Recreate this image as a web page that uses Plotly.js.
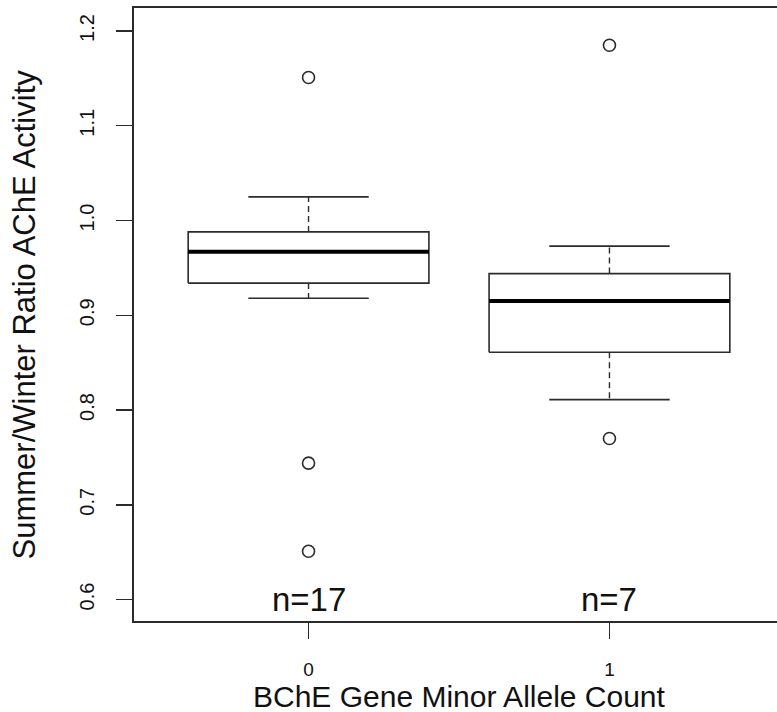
<!DOCTYPE html>
<html>
<head>
<meta charset="utf-8">
<script src="https://cdn.plot.ly/plotly-3.0.1.min.js"></script>
<style>
html, body { margin: 0; padding: 0; overflow: hidden; background: #fff; }
#chart { width: 800px; height: 712px; }
</style>
</head>
<body>
<div id="chart"></div>
<script>
// ---- data ----
var categories = ['0', '1'];
var positions = [1, 2];
var lowerWhisker = [0.918, 0.811];
var q1 = [0.934, 0.861];
var median = [0.967, 0.915];
var q3 = [0.988, 0.944];
var upperWhisker = [1.025, 0.973];
var outliers0 = [1.151, 0.744, 0.651];
var outliers1 = [1.185, 0.770];
var counts = [17, 7];
var yTicks = [0.6, 0.7, 0.8, 0.9, 1.0, 1.1, 1.2];
var xTitle = 'BChE Gene Minor Allele Count';
var yTitle = 'Summer/Winter Ratio AChE Activity';

// ---- build marks ----
var boxHalf = 0.4, capHalf = 0.2;
var lineCol = '#2b2b2b';
var FONT = 'Liberation Sans, Arial, Helvetica, sans-serif';

var boxX = [], boxY = [], medX = [], medY = [], whX = [], whY = [], capX = [], capY = [];
positions.forEach(function (c, i) {
  boxX.push(c - boxHalf, c + boxHalf, c + boxHalf, c - boxHalf, c - boxHalf, null);
  boxY.push(q1[i], q1[i], q3[i], q3[i], q1[i], null);
  medX.push(c - boxHalf, c + boxHalf, null);
  medY.push(median[i], median[i], null);
  whX.push(c, c, null, c, c, null);
  whY.push(q3[i], upperWhisker[i], null, q1[i], lowerWhisker[i], null);
  capX.push(c - capHalf, c + capHalf, null, c - capHalf, c + capHalf, null);
  capY.push(upperWhisker[i], upperWhisker[i], null, lowerWhisker[i], lowerWhisker[i], null);
});

var outX = [], outY = [];
[outliers0, outliers1].forEach(function (arr, i) {
  arr.forEach(function (v) { outX.push(positions[i]); outY.push(v); });
});

var traces = [
  { x: whX, y: whY, mode: 'lines', line: { color: lineCol, width: 1.4, dash: '6px,4px' }, hoverinfo: 'skip' },
  { x: capX, y: capY, mode: 'lines', line: { color: lineCol, width: 1.6 }, hoverinfo: 'skip' },
  { x: boxX, y: boxY, mode: 'lines', fill: 'toself', fillcolor: '#ffffff', line: { color: lineCol, width: 1.6 }, hoverinfo: 'skip' },
  { x: medX, y: medY, mode: 'lines', line: { color: '#000000', width: 4 }, hoverinfo: 'skip' },
  { x: outX, y: outY, mode: 'markers', marker: { symbol: 'circle-open', size: 12, color: lineCol, line: { width: 1.6, color: lineCol } }, hoverinfo: 'skip' }
];

var annotations = positions.map(function (c, i) {
  return {
    x: c, y: 0.6, xref: 'x', yref: 'y', text: 'n=' + counts[i], showarrow: false,
    xanchor: 'center', yanchor: 'middle', font: { family: FONT, size: 33, color: '#111' }
  };
});
annotations.push({
  x: 0.5, y: 0, xref: 'paper', yref: 'paper', text: xTitle, showarrow: false,
  xanchor: 'center', yanchor: 'top', yshift: -57, font: { family: FONT, size: 30, color: '#111' }
});
annotations.push({
  x: 0, y: 0.5, xref: 'paper', yref: 'paper', text: yTitle, showarrow: false, textangle: -90,
  xanchor: 'center', yanchor: 'middle', xshift: -110, font: { family: FONT, size: 31, color: '#111' }
});

var layout = {
  width: 800, height: 712,
  margin: { l: 134, r: 16, t: 8, b: 91 },
  paper_bgcolor: '#ffffff', plot_bgcolor: '#ffffff',
  showlegend: false,
  xaxis: {
    range: [0.42, 2.58], tickvals: positions, ticktext: categories,
    ticks: 'outside', ticklen: 16, tickwidth: 1.4, tickcolor: lineCol,
    showline: true, mirror: true, linecolor: lineCol, linewidth: 1.6,
    showgrid: false, zeroline: false, ticklabelstandoff: 15,
    tickfont: { family: FONT, size: 19, color: '#111' }
  },
  yaxis: {
    range: [0.5774, 1.2243], tickvals: yTicks, tickformat: '.1f', tickangle: -90,
    ticks: 'outside', ticklen: 16, tickwidth: 1.4, tickcolor: lineCol,
    showline: true, mirror: true, linecolor: lineCol, linewidth: 1.6,
    showgrid: false, zeroline: false, ticklabelstandoff: 14,
    tickfont: { family: FONT, size: 20, color: '#111' }
  },
  annotations: annotations
};

Plotly.newPlot('chart', traces, layout, { staticPlot: true, displayModeBar: false });
</script>
</body>
</html>
